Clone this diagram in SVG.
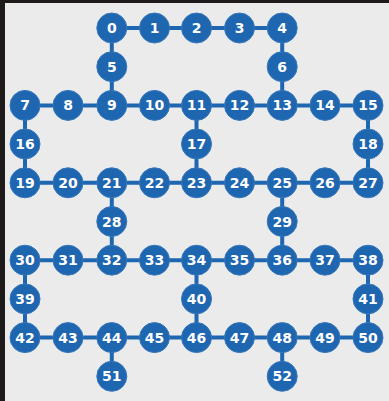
<svg xmlns="http://www.w3.org/2000/svg" width="389" height="401" viewBox="0 0 389 401">
<style>
.e{stroke:#1f66b1;stroke-width:4;fill:none}
.n circle{fill:#1f66b1;stroke:#3577bb;stroke-width:1}
.n text{fill:#fff;font-family:"DejaVu Sans",sans-serif;font-weight:bold;font-size:14px;text-anchor:middle;dominant-baseline:central}
</style>
<rect width="389" height="401" fill="#1e1a1a"/>
<rect x="5" y="3" width="384" height="398" fill="#ebebeb"/>
<g id="connectors">
<path class="e" d="M111.8,28H282.2M111.8,28V105.4M282.2,28V105.4M25,105.4H368M25,105.4V182.8M196.5,105.4V182.8M368,105.4V182.8M25,182.8H368M111.8,182.8V260.2M282.2,182.8V260.2M25,260.2H368M25,260.2V337.6M196.5,260.2V337.6M368,260.2V337.6M25,337.6H368M111.8,337.6V376.3M282.2,337.6V376.3"/>
</g>
<g id="n0" class="n"><circle cx="111.8" cy="28" r="15"/><text x="111.8" y="28">0</text></g>
<g id="n1" class="n"><circle cx="154.5" cy="28" r="15"/><text x="154.5" y="28">1</text></g>
<g id="n2" class="n"><circle cx="196.5" cy="28" r="15"/><text x="196.5" y="28">2</text></g>
<g id="n3" class="n"><circle cx="239.5" cy="28" r="15"/><text x="239.5" y="28">3</text></g>
<g id="n4" class="n"><circle cx="282.2" cy="28" r="15"/><text x="282.2" y="28">4</text></g>
<g id="n5" class="n"><circle cx="111.8" cy="66.7" r="15"/><text x="111.8" y="66.7">5</text></g>
<g id="n6" class="n"><circle cx="282.2" cy="66.7" r="15"/><text x="282.2" y="66.7">6</text></g>
<g id="n7" class="n"><circle cx="25" cy="105.4" r="15"/><text x="25" y="105.4">7</text></g>
<g id="n8" class="n"><circle cx="68" cy="105.4" r="15"/><text x="68" y="105.4">8</text></g>
<g id="n9" class="n"><circle cx="111.8" cy="105.4" r="15"/><text x="111.8" y="105.4">9</text></g>
<g id="n10" class="n"><circle cx="154.5" cy="105.4" r="15"/><text x="154.5" y="105.4">10</text></g>
<g id="n11" class="n"><circle cx="196.5" cy="105.4" r="15"/><text x="196.5" y="105.4">11</text></g>
<g id="n12" class="n"><circle cx="239.5" cy="105.4" r="15"/><text x="239.5" y="105.4">12</text></g>
<g id="n13" class="n"><circle cx="282.2" cy="105.4" r="15"/><text x="282.2" y="105.4">13</text></g>
<g id="n14" class="n"><circle cx="325" cy="105.4" r="15"/><text x="325" y="105.4">14</text></g>
<g id="n15" class="n"><circle cx="368" cy="105.4" r="15"/><text x="368" y="105.4">15</text></g>
<g id="n16" class="n"><circle cx="25" cy="144" r="15"/><text x="25" y="144">16</text></g>
<g id="n17" class="n"><circle cx="196.5" cy="144" r="15"/><text x="196.5" y="144">17</text></g>
<g id="n18" class="n"><circle cx="368" cy="144" r="15"/><text x="368" y="144">18</text></g>
<g id="n19" class="n"><circle cx="25" cy="182.8" r="15"/><text x="25" y="182.8">19</text></g>
<g id="n20" class="n"><circle cx="68" cy="182.8" r="15"/><text x="68" y="182.8">20</text></g>
<g id="n21" class="n"><circle cx="111.8" cy="182.8" r="15"/><text x="111.8" y="182.8">21</text></g>
<g id="n22" class="n"><circle cx="154.5" cy="182.8" r="15"/><text x="154.5" y="182.8">22</text></g>
<g id="n23" class="n"><circle cx="196.5" cy="182.8" r="15"/><text x="196.5" y="182.8">23</text></g>
<g id="n24" class="n"><circle cx="239.5" cy="182.8" r="15"/><text x="239.5" y="182.8">24</text></g>
<g id="n25" class="n"><circle cx="282.2" cy="182.8" r="15"/><text x="282.2" y="182.8">25</text></g>
<g id="n26" class="n"><circle cx="325" cy="182.8" r="15"/><text x="325" y="182.8">26</text></g>
<g id="n27" class="n"><circle cx="368" cy="182.8" r="15"/><text x="368" y="182.8">27</text></g>
<g id="n28" class="n"><circle cx="111.8" cy="221.5" r="15"/><text x="111.8" y="221.5">28</text></g>
<g id="n29" class="n"><circle cx="282.2" cy="221.5" r="15"/><text x="282.2" y="221.5">29</text></g>
<g id="n30" class="n"><circle cx="25" cy="260.2" r="15"/><text x="25" y="260.2">30</text></g>
<g id="n31" class="n"><circle cx="68" cy="260.2" r="15"/><text x="68" y="260.2">31</text></g>
<g id="n32" class="n"><circle cx="111.8" cy="260.2" r="15"/><text x="111.8" y="260.2">32</text></g>
<g id="n33" class="n"><circle cx="154.5" cy="260.2" r="15"/><text x="154.5" y="260.2">33</text></g>
<g id="n34" class="n"><circle cx="196.5" cy="260.2" r="15"/><text x="196.5" y="260.2">34</text></g>
<g id="n35" class="n"><circle cx="239.5" cy="260.2" r="15"/><text x="239.5" y="260.2">35</text></g>
<g id="n36" class="n"><circle cx="282.2" cy="260.2" r="15"/><text x="282.2" y="260.2">36</text></g>
<g id="n37" class="n"><circle cx="325" cy="260.2" r="15"/><text x="325" y="260.2">37</text></g>
<g id="n38" class="n"><circle cx="368" cy="260.2" r="15"/><text x="368" y="260.2">38</text></g>
<g id="n39" class="n"><circle cx="25" cy="298.9" r="15"/><text x="25" y="298.9">39</text></g>
<g id="n40" class="n"><circle cx="196.5" cy="298.9" r="15"/><text x="196.5" y="298.9">40</text></g>
<g id="n41" class="n"><circle cx="368" cy="298.9" r="15"/><text x="368" y="298.9">41</text></g>
<g id="n42" class="n"><circle cx="25" cy="337.6" r="15"/><text x="25" y="337.6">42</text></g>
<g id="n43" class="n"><circle cx="68" cy="337.6" r="15"/><text x="68" y="337.6">43</text></g>
<g id="n44" class="n"><circle cx="111.8" cy="337.6" r="15"/><text x="111.8" y="337.6">44</text></g>
<g id="n45" class="n"><circle cx="154.5" cy="337.6" r="15"/><text x="154.5" y="337.6">45</text></g>
<g id="n46" class="n"><circle cx="196.5" cy="337.6" r="15"/><text x="196.5" y="337.6">46</text></g>
<g id="n47" class="n"><circle cx="239.5" cy="337.6" r="15"/><text x="239.5" y="337.6">47</text></g>
<g id="n48" class="n"><circle cx="282.2" cy="337.6" r="15"/><text x="282.2" y="337.6">48</text></g>
<g id="n49" class="n"><circle cx="325" cy="337.6" r="15"/><text x="325" y="337.6">49</text></g>
<g id="n50" class="n"><circle cx="368" cy="337.6" r="15"/><text x="368" y="337.6">50</text></g>
<g id="n51" class="n"><circle cx="111.8" cy="376.3" r="15"/><text x="111.8" y="376.3">51</text></g>
<g id="n52" class="n"><circle cx="282.2" cy="376.3" r="15"/><text x="282.2" y="376.3">52</text></g>
</svg>
